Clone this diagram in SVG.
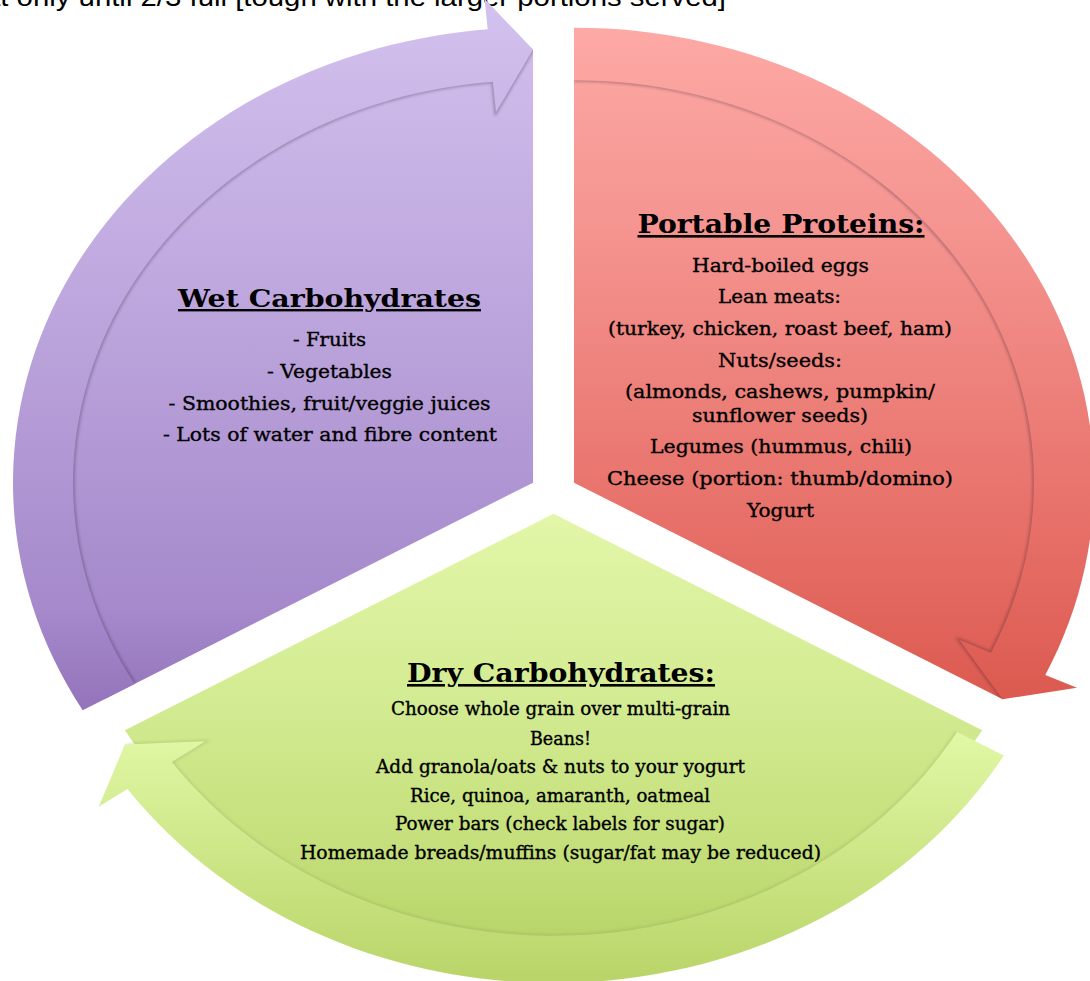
<svg xmlns="http://www.w3.org/2000/svg" width="1090" height="981" viewBox="0 0 1090 981">
<defs>
<style>
.h{font-family:"DejaVu Serif","Liberation Serif",serif;font-weight:bold;text-decoration:underline;fill:#000;text-anchor:middle}
.t{font-family:"DejaVu Serif","Liberation Serif",serif;fill:#000;stroke:#000;stroke-width:0.35;text-anchor:middle}
.top{font-family:"Liberation Sans",Arial,sans-serif;fill:#000}
.sh{fill:none;stroke:#2a1a30;stroke-width:3;filter:url(#blur)}
</style>
<filter id="blur" x="-10%" y="-10%" width="120%" height="120%"><feGaussianBlur stdDeviation="1.6"/></filter>
<linearGradient id="gP" gradientUnits="userSpaceOnUse" x1="0" y1="-552" x2="0" y2="260">
<stop offset="0" stop-color="#D3C1EE"/><stop offset="0.43" stop-color="#BDA6DD"/><stop offset="0.86" stop-color="#A589CB"/><stop offset="1" stop-color="#9473BA"/>
</linearGradient>
<linearGradient id="gR" gradientUnits="userSpaceOnUse" x1="0" y1="-552" x2="0" y2="245">
<stop offset="0" stop-color="#FEACA8"/><stop offset="0.325" stop-color="#F59490"/><stop offset="0.717" stop-color="#E8736C"/><stop offset="1" stop-color="#DC5A50"/>
</linearGradient>
<linearGradient id="gG" gradientUnits="userSpaceOnUse" x1="0" y1="0" x2="0" y2="495">
<stop offset="0" stop-color="#E3F6A9"/><stop offset="0.43" stop-color="#D3EB92"/><stop offset="0.78" stop-color="#C4DF7A"/><stop offset="1" stop-color="#B6D468"/>
</linearGradient>
<linearGradient id="gGb" gradientUnits="userSpaceOnUse" x1="0" y1="230" x2="0" y2="560">
<stop offset="0" stop-color="#E1F8A6"/><stop offset="1" stop-color="#B3CF5F"/>
</linearGradient>
<clipPath id="cP"><path d="M0,0 L-519.6,300 A600 600 0 0 1 0,-600 Z"/></clipPath>
<clipPath id="cR"><path d="M0,0 L0,-600 A600 600 0 0 1 519.6,300 Z"/></clipPath>
<clipPath id="cG"><path d="M0,0 L519.6,300 A600 600 0 0 1 -519.6,300 Z"/></clipPath>
</defs>

<text class="top" x="-16" y="6" font-size="25" textLength="742" lengthAdjust="spacingAndGlyphs">at only until 2/3 full [tough with the larger portions served]</text>

<g id="node-wet">
<path fill="url(#gP)" transform="translate(553.5,493) scale(1,0.875) translate(-20.5,-11.85)" d="M0,0 L-428.68,247.5 A495 495 0 0 1 0,-495 Z"/>
<text class="h" x="329.5" y="307" font-size="24" textLength="303" lengthAdjust="spacingAndGlyphs">Wet Carbohydrates</text>
<text class="t" x="329.5" y="346" font-size="19" textLength="73" lengthAdjust="spacingAndGlyphs">- Fruits</text>
<text class="t" x="329.5" y="378" font-size="19" textLength="125" lengthAdjust="spacingAndGlyphs">- Vegetables</text>
<text class="t" x="329.5" y="410" font-size="19" textLength="322" lengthAdjust="spacingAndGlyphs">- Smoothies, fruit/veggie juices</text>
<text class="t" x="330" y="441" font-size="19" textLength="334" lengthAdjust="spacingAndGlyphs">- Lots of water and fibre content</text>
</g>

<g id="node-proteins">
<path fill="url(#gR)" transform="translate(553.5,493) scale(1,0.875) translate(20.5,-11.85)" d="M0,0 L0,-495 A495 495 0 0 1 428.68,247.5 Z"/>
<text class="h" x="781" y="233" font-size="26" textLength="287" lengthAdjust="spacingAndGlyphs">Portable Proteins:</text>
<text class="t" x="780.5" y="272" font-size="19" textLength="177" lengthAdjust="spacingAndGlyphs">Hard-boiled eggs</text>
<text class="t" x="779.5" y="303" font-size="19" textLength="123" lengthAdjust="spacingAndGlyphs">Lean meats:</text>
<text class="t" x="780" y="335" font-size="19" textLength="344" lengthAdjust="spacingAndGlyphs">(turkey, chicken, roast beef, ham)</text>
<text class="t" x="780" y="367" font-size="19" textLength="124" lengthAdjust="spacingAndGlyphs">Nuts/seeds:</text>
<text class="t" x="780" y="398" font-size="19" textLength="310" lengthAdjust="spacingAndGlyphs">(almonds, cashews, pumpkin/</text>
<text class="t" x="780" y="422" font-size="19" textLength="176" lengthAdjust="spacingAndGlyphs">sunflower seeds)</text>
<text class="t" x="781" y="453" font-size="19" textLength="262" lengthAdjust="spacingAndGlyphs">Legumes (hummus, chili)</text>
<text class="t" x="780" y="485" font-size="19" textLength="346" lengthAdjust="spacingAndGlyphs">Cheese (portion: thumb/domino)</text>
<text class="t" x="780.5" y="517" font-size="19" textLength="67" lengthAdjust="spacingAndGlyphs">Yogurt</text>
</g>

<g id="node-dry">
<path fill="url(#gG)" transform="translate(553.5,493) scale(1,0.875) translate(0,23.7)" d="M0,0 L428.68,247.5 A495 495 0 0 1 -428.68,247.5 Z"/>
<text class="h" x="561" y="682" font-size="26" textLength="308" lengthAdjust="spacingAndGlyphs">Dry Carbohydrates:</text>
<text class="t" x="560.5" y="715" font-size="18" textLength="339" lengthAdjust="spacingAndGlyphs">Choose whole grain over multi-grain</text>
<text class="t" x="560.5" y="745" font-size="18" textLength="61" lengthAdjust="spacingAndGlyphs">Beans!</text>
<text class="t" x="560.5" y="773" font-size="18" textLength="369" lengthAdjust="spacingAndGlyphs">Add granola/oats &amp; nuts to your yogurt</text>
<text class="t" x="560" y="802" font-size="18" textLength="300" lengthAdjust="spacingAndGlyphs">Rice, quinoa, amaranth, oatmeal</text>
<text class="t" x="560" y="830" font-size="18" textLength="330" lengthAdjust="spacingAndGlyphs">Power bars (check labels for sugar)</text>
<text class="t" x="560.5" y="859" font-size="18" textLength="521" lengthAdjust="spacingAndGlyphs">Homemade breads/muffins (sugar/fat may be reduced)</text>
</g>

<g id="connectors">
<g transform="translate(553.5,493) scale(1,0.875) translate(-20.5,-11.85)">
<path class="sh" clip-path="url(#cP)" opacity="0.35" d="M-398.37,230 A460 460 0 0 1 -40.09,-458.25 L-37.04,-423.38 L0,-495"/>
<path fill="url(#gP)" d="M-450.33,260 A520 520 0 0 1 -45.32,-518.02 L-48.37,-552.89 L0,-495 L-37.04,-423.38 L-40.09,-458.25 A460 460 0 0 0 -398.37,230 Z"/>
</g>
<g transform="translate(553.5,493) scale(1,0.875) translate(20.5,-11.85)">
<path class="sh" clip-path="url(#cR)" opacity="0.35" d="M0,-460 A460 460 0 0 1 416.90,194.40 L385.18,179.61 L428.68,247.5"/>
<path fill="url(#gR)" d="M0,-520 A520 520 0 0 1 471.28,219.76 L503.00,234.55 L428.68,247.5 L385.18,179.61 L416.90,194.40 A460 460 0 0 0 0,-460 Z"/>
</g>
<g transform="translate(553.5,493) scale(1,0.875) translate(0,40)">
<path class="sh" clip-path="url(#cG)" opacity="0.12" d="M403.57,233 A466 466 0 0 1 -381.73,267.29 L-348.14,243.77 L-428.68,247.5"/>
<path fill="url(#gGb)" d="M450.33,260 A520 520 0 0 1 -425.96,298.26 L-454.63,318.33 L-428.68,247.5 L-348.14,243.77 L-381.73,267.29 A466 466 0 0 0 403.57,233 Z"/>
</g>
</g>
</svg>
